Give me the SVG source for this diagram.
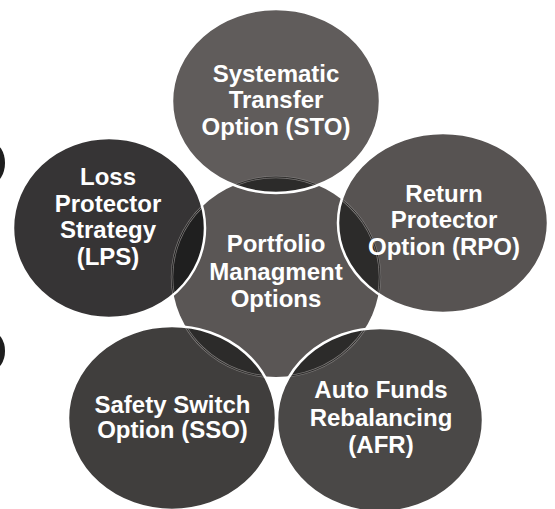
<svg xmlns="http://www.w3.org/2000/svg" width="555" height="509" viewBox="0 0 555 509">
<style>
.lbl{font-family:"Liberation Sans",Arial,sans-serif;font-weight:bold;font-size:24px;fill:#ffffff;text-anchor:middle}
.ring{fill:none;stroke:#ffffff;stroke-width:2.5}
.ov{fill:#2c2b2a}
.cl1{fill:none;stroke:#7a7776;stroke-width:2.4}
.cl2{fill:none;stroke:#2c2b2a;stroke-width:1}
</style>
<defs>
<ellipse id="cE" cx="276" cy="277" rx="104" ry="100"/>
<clipPath id="cpSTO"><ellipse cx="276" cy="101" rx="104" ry="92"/></clipPath>
<clipPath id="cpRPO"><ellipse cx="443" cy="223" rx="105" ry="90"/></clipPath>
<clipPath id="cpLPS"><ellipse cx="109" cy="228" rx="96" ry="90"/></clipPath>
<clipPath id="cpSSO"><ellipse cx="172" cy="418" rx="104" ry="92"/></clipPath>
<clipPath id="cpAFR"><ellipse cx="380" cy="420" rx="103" ry="92"/></clipPath>
</defs>
<rect width="555" height="509" fill="#ffffff"/>
<g id="edge-marks">
<ellipse cx="-8" cy="163" rx="13" ry="20" fill="#1e1e1e"/>
<ellipse cx="-8" cy="351" rx="13" ry="19" fill="#1e1e1e"/>
</g>
<g id="center">
<use href="#cE" fill="#5a5655"/>
</g>
<g id="connectors"></g>
<g id="sto">
<ellipse cx="276" cy="101" rx="104" ry="92" fill="#605c5b"/>
<g clip-path="url(#cpSTO)"><use href="#cE" class="ov"/><use href="#cE" class="cl1"/><use href="#cE" class="cl2"/></g>
<ellipse cx="276" cy="101" rx="104" ry="92" class="ring"/>
<text class="lbl" x="276" y="82">Systematic</text>
<text class="lbl" x="276" y="108">Transfer</text>
<text class="lbl" x="276" y="135">Option (STO)</text>
</g>
<g id="rpo">
<ellipse cx="443" cy="223" rx="105" ry="90" fill="#575352"/>
<g clip-path="url(#cpRPO)"><use href="#cE" class="ov"/><use href="#cE" class="cl1"/><use href="#cE" class="cl2"/></g>
<ellipse cx="443" cy="223" rx="105" ry="90" class="ring"/>
<text class="lbl" x="444" y="202">Return</text>
<text class="lbl" x="444" y="228">Protector</text>
<text class="lbl" x="444" y="255">Option (RPO)</text>
</g>
<g id="lps">
<ellipse cx="109" cy="228" rx="96" ry="90" fill="#363435"/>
<g clip-path="url(#cpLPS)"><use href="#cE" fill="#1f1f1f"/><use href="#cE" class="cl1"/><use href="#cE" class="cl2" style="stroke:#1f1f1f"/></g>
<ellipse cx="109" cy="228" rx="96" ry="90" class="ring"/>
<text class="lbl" x="108" y="185">Loss</text>
<text class="lbl" x="108" y="212">Protector</text>
<text class="lbl" x="108" y="238">Strategy</text>
<text class="lbl" x="108" y="265">(LPS)</text>
</g>
<g id="sso">
<ellipse cx="172" cy="418" rx="104" ry="92" fill="#403e3d"/>
<g clip-path="url(#cpSSO)"><use href="#cE" class="ov"/><use href="#cE" class="cl1"/><use href="#cE" class="cl2"/></g>
<ellipse cx="172" cy="418" rx="104" ry="92" class="ring"/>
<text class="lbl" x="172.5" y="413">Safety Switch</text>
<text class="lbl" x="172.5" y="438">Option (SSO)</text>
</g>
<g id="afr">
<ellipse cx="380" cy="420" rx="103" ry="92" fill="#4a4847"/>
<g clip-path="url(#cpAFR)"><use href="#cE" class="ov"/><use href="#cE" class="cl1"/><use href="#cE" class="cl2"/></g>
<ellipse cx="380" cy="420" rx="103" ry="92" class="ring"/>
<text class="lbl" x="381" y="398">Auto Funds</text>
<text class="lbl" x="381" y="426">Rebalancing</text>
<text class="lbl" x="381" y="453">(AFR)</text>
</g>
<g id="center-label">
<text class="lbl" x="276" y="252">Portfolio</text>
<text class="lbl" x="276" y="280">Managment</text>
<text class="lbl" x="276" y="307">Options</text>
</g>
</svg>
